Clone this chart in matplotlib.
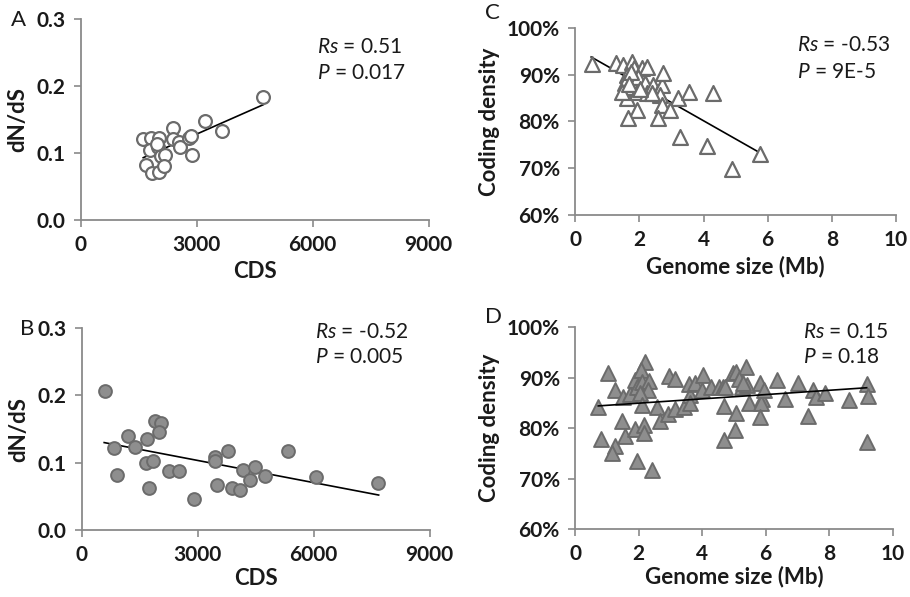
import numpy as np
import matplotlib
matplotlib.use("Agg")
import matplotlib.pyplot as plt
from matplotlib.ticker import PercentFormatter

plt.rcParams['font.family'] = ['Lato', 'DejaVu Sans']
plt.rcParams['mathtext.fontset'] = 'custom'
plt.rcParams['mathtext.it'] = 'Lato:italic'

# panel A : dN/dS vs CDS (open circles)
a_cds = [1611, 1802, 2025, 1784, 1999, 2061, 2172, 2387, 2371, 2542, 2560, 2801,
         2845, 2862, 3207, 1681, 1828, 2025, 2146, 3640, 4716, 1957]
a_dnds = [0.121, 0.123, 0.123, 0.104, 0.109, 0.096, 0.097, 0.137, 0.121, 0.116, 0.109, 0.122,
          0.126, 0.097, 0.147, 0.082, 0.070, 0.072, 0.080, 0.133, 0.184, 0.113]
a_fit_x = [1611, 4716]
a_fit_y = [0.093, 0.172]
a_stats = ("0.51", "0.017")

# panel B : dN/dS vs CDS (filled circles)
b_cds = [586, 844, 904, 1206, 1387, 1680, 1654, 1835, 1749, 1895, 2041, 1998, 2265, 2524,
         2903, 3437, 3445, 3488, 3781, 3893, 4091, 4160, 4358, 4470, 4729, 5340, 6055, 7666]
b_dnds = [0.206, 0.122, 0.082, 0.140, 0.123, 0.136, 0.099, 0.103, 0.063, 0.162, 0.159, 0.145,
          0.087, 0.087, 0.046, 0.108, 0.103, 0.067, 0.118, 0.062, 0.059, 0.089, 0.074, 0.094,
          0.081, 0.117, 0.079, 0.070]
b_fit_x = [577, 7683]
b_fit_y = [0.130, 0.052]
b_stats = ("-0.52", "0.005")

# panel C : coding density vs genome size (open triangles)
c_size = [0.52, 1.28, 1.50, 1.77, 1.82, 2.08, 2.23, 1.61, 1.56, 1.56, 1.61, 1.71, 1.87, 1.92,
          1.97, 2.18, 2.23, 2.44, 2.59, 2.70, 2.73, 2.65, 3.20, 3.56, 4.29, 1.92, 1.66, 2.70,
          2.96, 2.59, 1.45, 2.39, 3.27, 4.12, 4.88, 5.76, 1.75, 1.68, 2.02]
c_dens = [92.4, 92.5, 92.1, 92.8, 91.4, 91.4, 91.7, 89.9, 88.2, 86.4, 85.0, 87.4, 88.5, 86.4,
          89.6, 88.2, 86.0, 87.8, 86.4, 87.8, 90.3, 85.7, 85.0, 86.4, 86.0, 82.5, 80.7, 83.5,
          82.5, 80.7, 86.4, 86.0, 76.6, 74.8, 69.8, 73.0, 90.5, 88.0, 87.0]
c_fit_x = [0.50, 5.76]
c_fit_y = [93.8, 73.3]
c_stats = ("-0.53", "9E-5")

# panel D : coding density vs genome size (filled triangles)
d_size = [0.71, 0.82, 1.05, 1.24, 1.47, 1.57, 1.26, 1.15, 1.52, 1.73, 1.89, 2.19, 2.08, 1.95,
          2.10, 2.33, 2.31, 2.05, 2.12, 1.89, 2.17, 2.17, 1.96, 2.43, 2.59, 2.68, 2.94, 3.13,
          2.97, 3.13, 3.44, 3.62, 3.59, 3.76, 4.04, 3.99, 4.28, 4.53, 4.67, 4.70, 4.70, 4.98,
          4.72, 5.06, 5.38, 5.16, 5.27, 5.42, 5.06, 5.04, 5.49, 5.81, 5.87, 5.85, 5.81, 5.95,
          6.35, 6.61, 7.01, 7.34, 7.50, 7.60, 7.87, 8.63, 9.18, 9.21, 9.18, 3.62, 5.30]
d_dens = [84.2, 77.8, 90.9, 87.6, 81.4, 78.4, 76.5, 75.0, 86.1, 86.7, 89.6, 93.1, 91.5, 88.2,
          89.1, 89.3, 87.6, 86.9, 84.5, 79.9, 80.6, 79.0, 73.4, 71.7, 84.2, 81.4, 82.8, 83.7,
          90.3, 89.8, 84.2, 86.5, 88.8, 88.9, 90.6, 87.6, 88.2, 88.2, 88.2, 84.3, 77.6, 90.9,
          88.2, 91.1, 92.1, 89.8, 88.2, 88.5, 83.0, 79.6, 84.9, 88.9, 85.7, 84.9, 82.2, 87.5,
          89.6, 85.7, 88.9, 82.4, 87.6, 86.1, 87.0, 85.5, 88.7, 86.4, 77.3, 85.0, 89.0]
d_fit_x = [0.73, 9.18]
d_fit_y = [84.4, 88.0]
d_stats = ("0.15", "0.18")

EDGE = '#6b6b6b'
FILL = '#8e8e8e'
SPINE = '#8a8a8a'
TXT = '#1a1a1a'
LABEL_FS = 16

fig = plt.figure(figsize=(9.10, 5.97), dpi=100)

def style_axes(ax):
    for s in ['top', 'right']:
        ax.spines[s].set_visible(False)
    for s in ['left', 'bottom']:
        ax.spines[s].set_color(SPINE)
        ax.spines[s].set_linewidth(1.3)
    ax.tick_params(direction='out', length=5, width=1.2, color=SPINE,
                   labelsize=15, labelcolor=TXT, pad=6)
    for lab in ax.get_xticklabels() + ax.get_yticklabels():
        lab.set_fontweight('bold')

def add_stats(ax, xa, ya1, ya2, stats):
    ax.text(xa, ya1, r"$\mathit{Rs}$ = " + stats[0], transform=ax.transAxes,
            fontsize=15, color=TXT, va='center', ha='left')
    ax.text(xa, ya2, r"$\mathit{P}$ = " + stats[1], transform=ax.transAxes,
            fontsize=15, color=TXT, va='center', ha='left')

# A
axA = fig.add_axes([0.089, 0.6315, 0.382, 0.3367])
axA.plot(a_fit_x, a_fit_y, color='black', lw=1.2, zorder=1)
axA.scatter(a_cds, a_dnds, s=85, facecolor='white', edgecolor=EDGE, linewidth=1.6, zorder=2)
axA.set_xlim(0, 9000)
axA.set_ylim(0, 0.3)
axA.set_xticks([0, 3000, 6000, 9000])
axA.set_yticks([0.0, 0.1, 0.2, 0.3])
axA.set_yticklabels(['0.0', '0.1', '0.2', '0.3'])
axA.set_xlabel('CDS', fontsize=LABEL_FS, fontweight='bold', color=TXT, labelpad=4)
axA.set_ylabel('dN/dS', fontsize=LABEL_FS, fontweight='bold', color=TXT, labelpad=6)
style_axes(axA)
add_stats(axA, 0.68, 0.86, 0.73, a_stats)

# B
axB = fig.add_axes([0.090, 0.1122, 0.382, 0.338])
axB.plot(b_fit_x, b_fit_y, color='black', lw=1.2, zorder=1)
axB.scatter(b_cds, b_dnds, s=85, facecolor=FILL, edgecolor=EDGE, linewidth=1.4, zorder=2)
axB.set_xlim(0, 9000)
axB.set_ylim(0, 0.3)
axB.set_xticks([0, 3000, 6000, 9000])
axB.set_yticks([0.0, 0.1, 0.2, 0.3])
axB.set_yticklabels(['0.0', '0.1', '0.2', '0.3'])
axB.set_xlabel('CDS', fontsize=LABEL_FS, fontweight='bold', color=TXT, labelpad=2)
axB.set_ylabel('dN/dS', fontsize=LABEL_FS, fontweight='bold', color=TXT, labelpad=6)
style_axes(axB)
add_stats(axB, 0.67, 0.98, 0.856, b_stats)

# C
axC = fig.add_axes([0.632, 0.6399, 0.3527, 0.3132])
axC.plot(c_fit_x, c_fit_y, color='black', lw=1.2, zorder=1)
axC.scatter(c_size, c_dens, s=115, marker='^', facecolor='white', edgecolor=EDGE,
            linewidth=1.6, zorder=2)
axC.set_xlim(0, 10)
axC.set_ylim(60, 100)
axC.set_xticks([0, 2, 4, 6, 8, 10])
axC.set_yticks([60, 70, 80, 90, 100])
axC.yaxis.set_major_formatter(PercentFormatter(xmax=100, decimals=0))
axC.set_xlabel('Genome size (Mb)', fontsize=LABEL_FS, fontweight='bold', color=TXT, labelpad=4)
axC.set_ylabel('Coding density', fontsize=LABEL_FS, fontweight='bold', color=TXT, labelpad=5)
style_axes(axC)
add_stats(axC, 0.69, 0.91, 0.765, c_stats)

# D
axD = fig.add_axes([0.632, 0.1139, 0.349, 0.338])
axD.plot(d_fit_x, d_fit_y, color='black', lw=1.2, zorder=3)
axD.scatter(d_size, d_dens, s=115, marker='^', facecolor=FILL, edgecolor=EDGE,
            linewidth=1.4, zorder=2)
axD.set_xlim(0, 10)
axD.set_ylim(60, 100)
axD.set_xticks([0, 2, 4, 6, 8, 10])
axD.set_yticks([60, 70, 80, 90, 100])
axD.yaxis.set_major_formatter(PercentFormatter(xmax=100, decimals=0))
axD.set_xlabel('Genome size (Mb)', fontsize=LABEL_FS, fontweight='bold', color=TXT, labelpad=1)
axD.set_ylabel('Coding density', fontsize=LABEL_FS, fontweight='bold', color=TXT, labelpad=5)
style_axes(axD)
add_stats(axD, 0.717, 0.975, 0.85, d_stats)

# panel letters
for letter, x, y in [('A', 0.012, 0.967), ('B', 0.022, 0.449), ('C', 0.533, 0.979), ('D', 0.533, 0.469)]:
    fig.text(x, y, letter, fontsize=16, color=TXT, va='center', ha='left')

fig.savefig('out.png', dpi=100)
